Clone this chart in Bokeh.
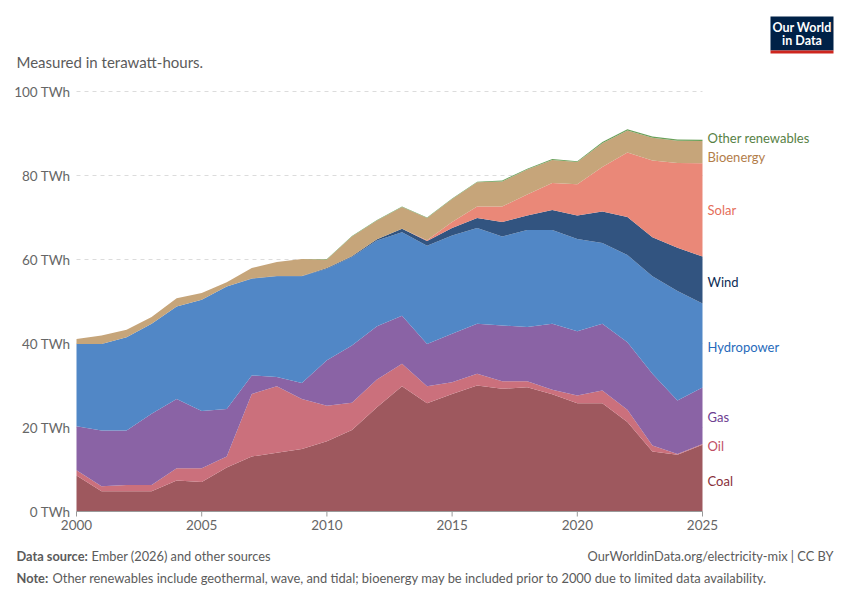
from bokeh.plotting import figure
from bokeh.models import ColumnDataSource, Label, Range1d
from bokeh.embed import file_html
from bokeh.resources import INLINE

years = list(range(2000, 2026))
coal = [8.6,4.8,4.8,4.8,7.4,7.0,10.5,13.1,14.0,14.9,16.7,19.4,24.8,29.8,25.8,28.0,30.0,29.2,29.6,27.9,25.8,25.8,21.3,14.3,13.5,15.9]
oil_top = [9.8,6.0,6.3,6.3,10.3,10.3,13.1,28.0,29.8,26.8,25.2,25.9,31.4,35.2,29.8,30.8,32.8,31.0,31.0,29.0,27.6,28.8,24.2,15.7,13.7,16.1]
gas_top = [20.3,19.3,19.3,23.3,26.8,23.9,24.4,32.4,32.0,30.6,36.0,39.5,44.1,46.6,39.9,42.3,44.7,44.3,43.9,44.7,42.9,44.7,40.3,32.8,26.4,29.5]
hydro_top = [39.9,39.9,41.5,44.7,48.8,50.4,53.6,55.4,56.0,56.0,57.8,60.6,64.5,66.5,63.3,65.7,67.5,65.5,67.0,67.0,64.9,63.9,61.1,56.0,52.5,49.5]
wind_top = [39.9,39.9,41.5,44.7,48.8,50.4,53.6,55.5,56.1,56.1,58.0,60.8,64.8,67.3,64.4,67.5,69.9,68.9,70.5,71.8,70.5,71.4,70.1,65.3,62.8,60.7]
solar_top = [39.9,39.9,41.5,44.7,48.8,50.4,53.6,55.5,56.1,56.1,58.0,60.8,64.8,67.3,64.6,68.9,72.6,72.6,75.5,78.2,77.9,82.0,85.5,83.6,83.0,82.9]
bio_top = [41.1,41.9,43.3,46.3,50.8,52.0,54.6,58.0,59.4,60.1,60.0,65.5,69.3,72.5,69.9,74.4,78.4,78.6,81.4,83.7,83.2,87.7,90.7,89.0,88.3,88.2]
other = [0.0,0.0,0.0,0.0,0.0,0.0,0.0,0.0,0.0,0.0,0.1,0.1,0.1,0.1,0.1,0.1,0.1,0.2,0.2,0.2,0.2,0.3,0.3,0.3,0.3,0.3]

names = ["Coal","Oil","Gas","Hydropower","Wind","Solar","Bioenergy","Other renewables"]
y_ticks = [0, 20, 40, 60, 80, 100]
y_tick_labels = ["0 TWh", "20 TWh", "40 TWh", "60 TWh", "80 TWh", "100 TWh"]
x_ticks = [2000, 2005, 2010, 2015, 2020, 2025]

tops = [coal, oil_top, gas_top, hydro_top, wind_top, solar_top, bio_top]
vals = []
prev = [0]*len(years)
for t in tops:
    vals.append([max(a-b, 0) for a, b in zip(t, prev)])
    prev = t
vals.append(other)
fills = ["#9e585e","#cb707c","#8a63a5","#5187c6","#325480","#ea8878","#c6a57a","#6aa05a"]
labcol = ["#883039","#c15065","#6d3e91","#286bbb","#0c2c55","#e56e5a","#b27d4a","#578145"]

L, R, T, B = 76, 702, 91, 511
W, H = 850, 600
sx = (R - L) / 25.0
sy = (B - T) / 100.0
def X(px): return 2000 + (px - L) / sx
def Y(py): return (B - py) / sy

src = ColumnDataSource(dict(year=years, **{n: v for n, v in zip(names, vals)}))

p = figure(width=W, height=H, output_backend="svg", toolbar_location=None,
           x_range=Range1d(X(0), X(W)), y_range=Range1d(Y(H), Y(0)),
           min_border=0)
p.outline_line_color = None
p.axis.visible = False
p.grid.grid_line_color = None

gy = [t for t in y_ticks if t > 0]
p.segment(x0=[2000]*len(gy), x1=[2025]*len(gy), y0=gy, y1=gy,
          line_color="#dcdcdc", line_dash="4 4", line_width=1)

p.varea_stack(stackers=names, x="year", color=fills, source=src)

p.segment(x0=[2000], x1=[2025], y0=[0], y1=[0], line_color="#999999", line_width=1)
p.segment(x0=x_ticks, x1=x_ticks, y0=[0]*6, y1=[Y(B + 5)]*6, line_color="#999999", line_width=1)

def lab(px, py, text, color="#5b5b5b", size="13px", bold=False, align="left", baseline="middle"):
    l = Label(x=px, y=H - py, x_units="screen", y_units="screen", text=text,
              text_color=color, text_font="Lato",
              text_font_size=size, text_align=align, text_baseline=baseline,
              text_font_style="bold" if bold else "normal")
    p.add_layout(l)
    return l

for t, s in zip(y_ticks, y_tick_labels):
    lab(70, B - t * sy, s, color="#666666", size="13.5px", align="right")
for t in x_ticks:
    lab(L + (t - 2000) * sx, 524, str(t), color="#666666", size="13.5px", align="center")

label_y = [480, 445, 416, 346, 281, 209, 156, 137]
for n, c, y in zip(names, labcol, label_y):
    lab(707, y, n, color=c, size="13px")

lab(16, 61, "Measured in terawatt-hours.", size="15px", color="#5b5b5b")
lab(16, 555, "Data source:", bold=True, size="12.8px")
lab(91, 555, "Ember (2026) and other sources", size="12.8px")
lab(833, 555, "OurWorldinData.org/electricity-mix | CC BY", size="12.8px", align="right")
lab(16, 577, "Note:", bold=True, size="12.8px")
lab(52, 577, "Other renewables include geothermal, wave, and tidal; bioenergy may be included prior to 2000 due to limited data availability.", size="12.9px")

p.quad(left=[X(770)], right=[X(833)], top=[Y(16)], bottom=[Y(50)], fill_color="#002147", line_color=None)
p.quad(left=[X(770)], right=[X(833)], top=[Y(50)], bottom=[Y(53)], fill_color="#ce261e", line_color=None)
lab(801.5, 27, "Our World", color="white", size="12.5px", bold=True, align="center")
lab(801.5, 40, "in Data", color="white", size="12.5px", bold=True, align="center")

open("out.html", "w").write(file_html(p, INLINE))
